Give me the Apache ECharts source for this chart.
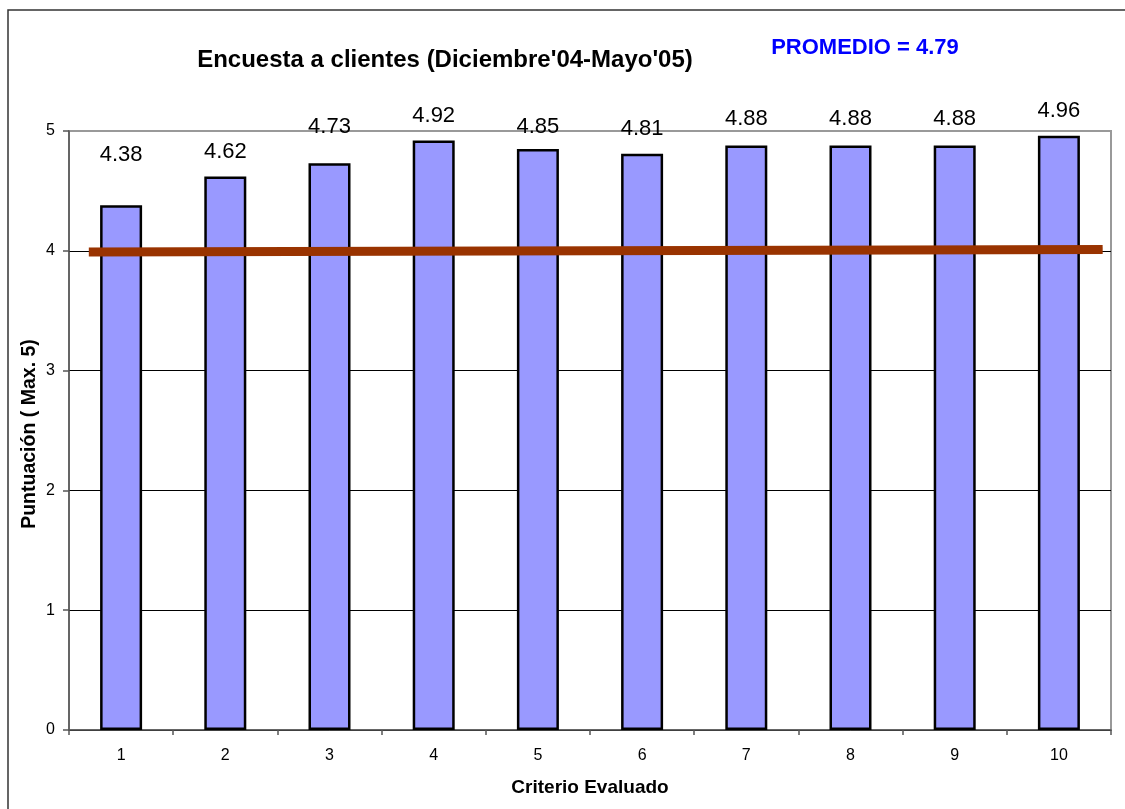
<!DOCTYPE html>
<html>
<head>
<meta charset="utf-8">
<script src="https://cdn.jsdelivr.net/npm/echarts@6/dist/echarts.min.js"></script>
<style>
html,body{margin:0;padding:0;background:#fff;}
#chart{width:1125px;height:809px;}
</style>
</head>
<body>
<div id="chart"></div>
<script>
// ---- data ----
const categories = ['1','2','3','4','5','6','7','8','9','10'];
const scores = [4.38, 4.62, 4.73, 4.92, 4.85, 4.81, 4.88, 4.88, 4.88, 4.96];
const targetLineX = [0.19, 9.92];
const targetLineY = [3.99, 4.01];
const yTicks = [0, 1, 2, 3, 4, 5];
const titleText = "Encuesta a clientes (Diciembre'04-Mayo'05)";
const averageText = 'PROMEDIO = 4.79';
const xName = 'Criterio Evaluado';
const yName = 'Puntuación ( Max. 5)';
// label vertical nudges (style only)
const labelNudge = [-25, 0, -11, 0, 3, 0, -1, -1, -1, 0];

const FONT = 'Liberation Sans, Arial, sans-serif';
const chart = echarts.init(document.getElementById('chart'));

const barData = scores.map((v, i) => ({
  value: v,
  label: { offset: [0, labelNudge[i]] }
}));

const option = {
  backgroundColor: '#ffffff',
  animation: false,
  grid: {
    left: 69, right: 14, top: 131, bottom: 79,
    show: true, borderColor: '#999999', borderWidth: 2, backgroundColor: 'transparent'
  },
  xAxis: [{
    type: 'category',
    data: categories,
    boundaryGap: true,
    axisLine: { show: true, lineStyle: { color: '#555', width: 1.5 } },
    axisTick: { show: true, alignWithLabel: false, length: 5, lineStyle: { color: '#555', width: 1.5 } },
    axisLabel: { color: '#000', fontFamily: FONT, fontSize: 16, margin: 18 },
    name: xName,
    nameLocation: 'middle',
    nameGap: 48,
    nameTextStyle: { color: '#000', fontFamily: FONT, fontSize: 19, fontWeight: 'bold' },
    splitLine: { show: false }
  }, {
    type: 'value',
    min: 0, max: 10,
    show: false
  }],
  yAxis: {
    type: 'value',
    min: yTicks[0], max: yTicks[yTicks.length - 1], interval: 1,
    axisLine: { show: true, lineStyle: { color: '#555', width: 1.5 } },
    axisTick: { show: true, length: 6, lineStyle: { color: '#555', width: 1.5 } },
    axisLabel: { color: '#000', fontFamily: FONT, fontSize: 16, margin: 14 },
    splitLine: { show: true, lineStyle: { color: ['#000','#000','#000','#000','#000','#999'], width: 1 } }
  },
  series: [{
    type: 'bar',
    data: barData,
    barWidth: 42,
    itemStyle: { color: '#9999FF', borderColor: '#000', borderWidth: 2.5 },
    label: {
      show: true, position: 'top', distance: 14,
      color: '#000', fontFamily: FONT, fontSize: 22,
      formatter: p => p.value.toFixed(2)
    },
    z: 2
  }, {
    type: 'line',
    xAxisIndex: 1,
    data: targetLineX.map((x, i) => [x, targetLineY[i]]),
    symbol: 'none',
    lineStyle: { color: '#993300', width: 9, cap: 'butt' },
    z: 5
  }],
  graphic: [{
    type: 'rect',
    shape: { x: 8, y: 10, width: 1130, height: 820 },
    style: { fill: 'none', stroke: '#333', lineWidth: 1.5 },
    silent: true
  }, {
    type: 'text',
    x: 445, y: 60,
    style: { text: titleText, fontFamily: FONT, fontSize: 24, fontWeight: 'bold', fill: '#000',
             textAlign: 'center', textVerticalAlign: 'middle' }
  }, {
    type: 'text',
    x: 865, y: 48,
    style: { text: averageText, fontFamily: FONT, fontSize: 22, fontWeight: 'bold', fill: '#0000FF',
             textAlign: 'center', textVerticalAlign: 'middle' }
  }, {
    type: 'text',
    x: 30, y: 434,
    rotation: Math.PI / 2,
    style: { text: yName, fontFamily: FONT, fontSize: 19.5, fontWeight: 'bold', fill: '#000',
             textAlign: 'center', textVerticalAlign: 'middle' }
  }]
};
chart.setOption(option);
</script>
</body>
</html>
